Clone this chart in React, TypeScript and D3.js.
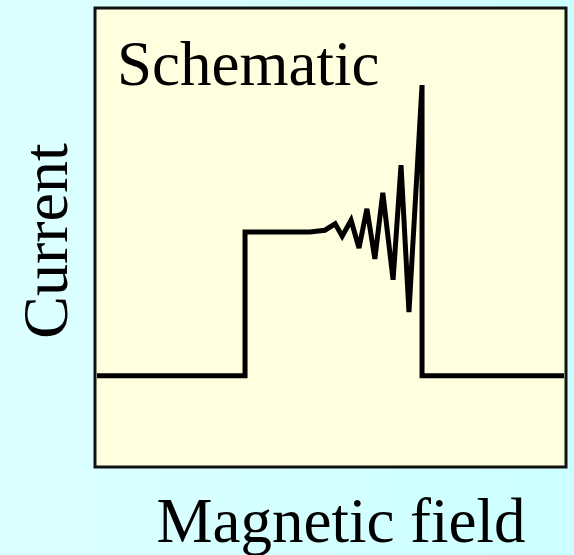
import React from 'react';
import * as d3 from 'd3';

// field (0..100) vs current (0..100)
const fieldValues = [0, 31.7, 31.7, 45.6, 48.8, 51.0, 52.5, 54.4, 56.1, 57.8, 59.5, 61.2, 63.4, 65.1, 66.8, 69.6, 69.6, 100];
const currentValues = [19.6, 19.6, 51.2, 51.2, 51.6, 53.0, 50.3, 53.8, 47.7, 56.3, 45.3, 59.8, 40.7, 65.9, 33.6, 83.5, 19.6, 19.6];

const title = 'Schematic';
const xLabel = 'Magnetic field';
const yLabel = 'Current';

const W = 574;
const H = 555;
const box = { left: 95, top: 8, right: 566, bottom: 467 };
const serif = 'Liberation Serif';

export default function App() {
  const x = d3.scaleLinear().domain([0, 100]).range([box.left + 2, box.right - 2]);
  const y = d3.scaleLinear().domain([0, 100]).range([box.bottom - 2, box.top + 2]);

  const pts = fieldValues.map((f, i) => [f, currentValues[i]] as [number, number]);
  const line = d3
    .line<[number, number]>()
    .x((d) => x(d[0]))
    .y((d) => y(d[1]));

  return (
    <svg width={W} height={H} style={{ position: 'fixed', left: 0, top: 0, display: 'block' }}>
      <defs>
        <linearGradient id="bg" x1="0" x2="1" y1="0" y2="0">
          <stop offset="0" stopColor="#ddffff" />
          <stop offset="1" stopColor="#ccffff" />
        </linearGradient>
      </defs>
      <rect x={0} y={0} width={W} height={H} fill="url(#bg)" />
      <rect
        x={box.left}
        y={box.top}
        width={box.right - box.left}
        height={box.bottom - box.top}
        fill="#ffffe0"
        stroke="#111"
        strokeWidth={3}
      />
      <path d={line(pts) ?? ''} fill="none" stroke="#000" strokeWidth={5} strokeLinejoin="miter" strokeMiterlimit={3} />
      <text x={117} y={85} fontFamily={serif} fontSize={63} fill="#000">
        {title}
      </text>
      <text
        transform={`translate(67,241) rotate(-90)`}
        textAnchor="middle"
        fontFamily={serif}
        fontSize={64}
        fill="#000"
      >
        {yLabel}
      </text>
      <text x={341} y={542} textAnchor="middle" fontFamily={serif} fontSize={63} fill="#000">
        {xLabel}
      </text>
    </svg>
  );
}
